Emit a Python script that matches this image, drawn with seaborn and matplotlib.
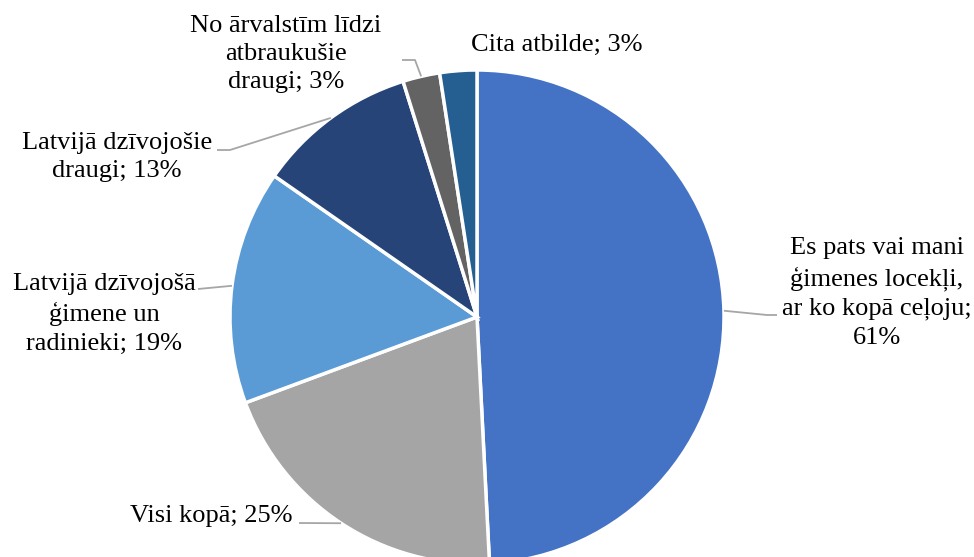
import numpy as np
import matplotlib
matplotlib.use("Agg")
import matplotlib.pyplot as plt
import seaborn as sns

labels = [
    "Es pats vai mani\nģimenes locekļi,\nar ko kopā ceļoju;\n61%",
    "Visi kopā; 25%",
    "Latvijā dzīvojošā\nģimene un\nradinieki; 19%",
    "Latvijā dzīvojošie\ndraugi; 13%",
    "No ārvalstīm līdzi\natbraukušie\ndraugi; 3%",
    "Cita atbilde; 3%",
]
values = [61, 25, 19, 13, 3, 3]
colors = ["#4472C4", "#A5A5A5", "#5B9BD5", "#264478", "#636363", "#255E91"]

sns.set_theme(style="white")
plt.rcParams["font.family"] = ["Liberation Serif", "DejaVu Serif"]

W, H = 974, 557
CX, CY, R = 477, 317, 247

def px(x, y):
    return ((x - CX) / R, (CY - y) / R)

fig = plt.figure(figsize=(W / 100, H / 100), dpi=100)
ax = fig.add_axes([0, 0, 1, 1])
wedges, _ = ax.pie(values, colors=colors, startangle=90, counterclock=False,
                   radius=1, wedgeprops=dict(edgecolor="white", linewidth=2.5))
ax.set_aspect("auto")
x0, y1 = px(0, 0)
x1, y0 = px(W, H)
ax.set_xlim(x0, x1)
ax.set_ylim(y0, y1)
ax.axis("off")

# label layout (pixel positions of text centers) and leader elbows
label_pos = [(877, 293), (211, 516), (104, 314), (117, 157), (286, 54), (557, 45)]
leaders = [
    [(777, 315), (767, 315)],
    [(299, 523)],
    [(198, 289)],
    [(217, 150), (230, 150)],
    [(402, 60), (415, 60)],
    None,
]

for w, lab, pos, ld in zip(wedges, labels, label_pos, leaders):
    tx, ty = px(*pos)
    ax.text(tx, ty, lab, ha="center", va="center", fontsize=19,
            linespacing=1.38, color="black")
    if ld is not None:
        mid = np.deg2rad((w.theta1 + w.theta2) / 2)
        rim = (np.cos(mid), np.sin(mid))
        pts = [px(*p) for p in ld] + [rim]
        xs, ys = zip(*pts)
        ax.plot(xs, ys, color="#A6A6A6", lw=1.3, solid_capstyle="butt")

fig.savefig("out.png", dpi=100, facecolor="white")
